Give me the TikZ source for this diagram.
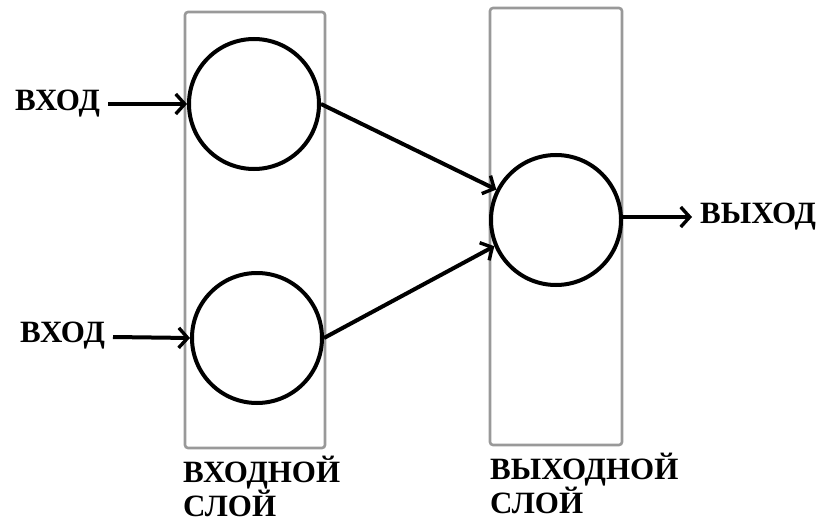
\documentclass[tikz,border=0pt]{standalone}
\usepackage{fontspec}
\setmainfont{Liberation Serif}
\usetikzlibrary{arrows.meta}
\begin{document}
\begin{tikzpicture}[x=1pt,y=-1pt,
  layerbox/.style={draw=black!40, line width=2.6pt, rounded corners=3pt},
  neuron/.style={draw=black, line width=4pt, circle, minimum size=130pt, inner sep=0pt},
  link/.style={line width=4pt, -{Straight Barb[length=9pt,width=20pt,line width=3.4pt]}},
  lbl/.style={font=\fontsize{31}{31}\selectfont\bfseries, inner sep=0pt},
  layercap/.style={font=\fontsize{31}{30}\selectfont\bfseries, inner sep=0pt, align=left, anchor=north west}]
  \useasboundingbox (0,0) rectangle (822,524);
  % layer frames
  \node[layerbox, minimum width=140pt, minimum height=436pt] (inlayer) at (255,230) {};
  \node[layerbox, minimum width=132pt, minimum height=437pt] (outlayer) at (556,226.5) {};
  % neurons
  \node[neuron] (n1) at (254,104) {};
  \node[neuron] (n2) at (257,338) {};
  \node[neuron] (n3) at (556,220) {};
  % inputs and output labels
  \node[lbl, anchor=west] (x1) at (15,104) {ВХОД};
  \node[lbl, anchor=west] (x2) at (20,336) {ВХОД};
  \node[lbl, anchor=west] (y) at (700,217) {ВЫХОД};
  % free ends of the input arrows
  \coordinate (x1s) at (108,104);
  \coordinate (x2s) at (113,337);
  % connectors
  \draw[link] (x1s) -- (n1.west);
  \draw[link] (x2s) -- (n2.west);
  \draw[link] (n1.east) -- (n3.153);
  \draw[link] (n2.east) -- (n3.203);
  \draw[link] (n3.east |- y.west) -- ([xshift=-8pt]y.west);
  % layer captions
  \node[layercap] (c1) at (183,456) {ВХОДНОЙ\\СЛОЙ};
  \node[layercap] (c2) at (490,453) {ВЫХОДНОЙ\\СЛОЙ};
\end{tikzpicture}
\end{document}
